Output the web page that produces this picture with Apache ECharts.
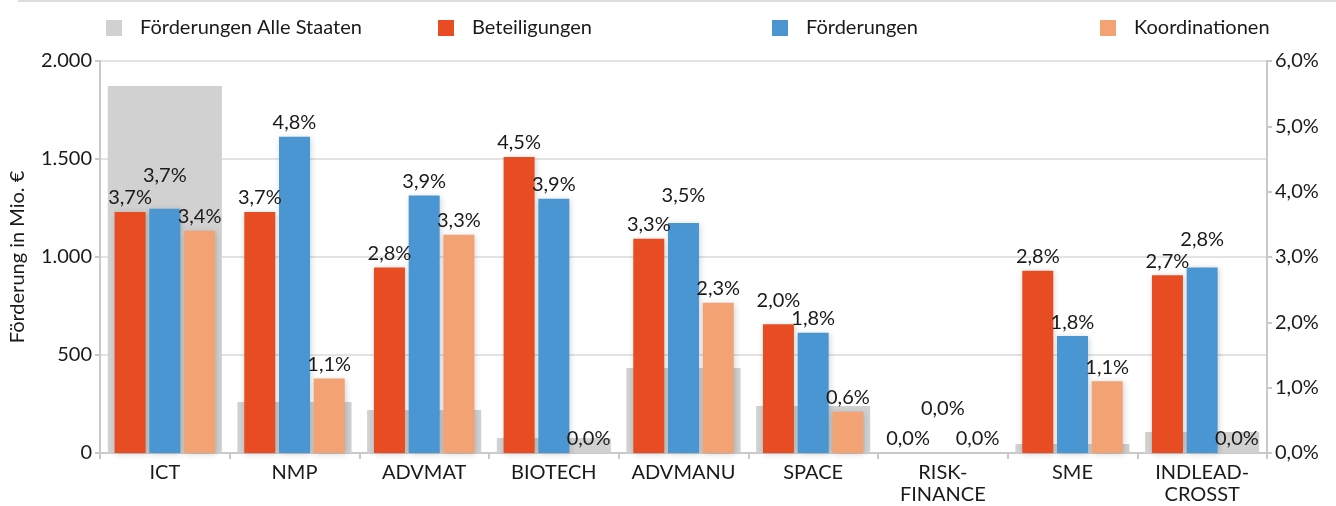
<!DOCTYPE html>
<html>
<head>
<meta charset="utf-8">
<script src="https://cdn.jsdelivr.net/npm/echarts@6/dist/echarts.min.js"></script>
<style>
    html, body { margin: 0; padding: 0; background: #fff; }
    #chart { width: 1336px; height: 506px; }
</style>
</head>
<body>
<div id="chart"></div>
<script>
// Daten
var kategorien = ['ICT', 'NMP', 'ADVMAT', 'BIOTECH', 'ADVMANU', 'SPACE', 'RISK-\nFINANCE', 'SME', 'INDLEAD-\nCROSST'];
var alleStaaten = [1872, 260, 219, 77, 434, 240, 0, 46, 107];          // Mio. €
var beteiligungen = [3.69, 3.69, 2.84, 4.53, 3.28, 1.97, 0, 2.79, 2.72];  // %
var foerderungen = [3.74, 4.84, 3.94, 3.89, 3.52, 1.84, 0, 1.79, 2.84];   // %
var koordinationen = [3.40, 1.14, 3.34, 0, 2.30, 0.63, 0, 1.10, 0];       // %
var linkeTicks = [0, 500, 1000, 1500, 2000];
var rechteTicks = [0, 1, 2, 3, 4, 5, 6];

// Beschriftungen, die wie im Original nach oben ausweichen
var labelLift = {
    'Beteiligungen': {5: -10},
    'Förderungen': {0: -19, 4: -13, 6: -30, 8: -14}
};

var schrift = 'Lato, "Open Sans", sans-serif';
var textFarbe = '#1a1a1a';
var achsenFarbe = '#c9c9c9';

function prozent(v) {
    return v.toFixed(1).replace('.', ',') + '%';
}
function tausender(v) {
    return String(v).replace(/\B(?=(\d{3})+(?!\d))/g, '.');
}

function farbSerie(name, werte, farbe) {
    var lift = labelLift[name] || {};
    return {
        name: name,
        type: 'bar',
        xAxisIndex: 0,
        yAxisIndex: 1,
        barWidth: 31,
        barGap: '12%',
        z: 3,
        data: werte.map(function (v, i) {
            var item = {value: v};
            if (lift[i]) {
                item.label = {offset: [0, lift[i]]};
            }
            return item;
        }),
        itemStyle: {
            color: farbe,
            shadowBlur: 6,
            shadowColor: 'rgba(0,0,0,0.18)',
            shadowOffsetX: 1,
            shadowOffsetY: 1
        },
        label: {
            show: true,
            position: 'top',
            distance: 4,
            color: textFarbe,
            fontFamily: schrift,
            fontSize: 20,
            formatter: function (p) { return prozent(p.value); }
        }
    };
}

function legende(name, left) {
    return {
        data: [name],
        left: left,
        top: 13,
        itemWidth: 16,
        itemHeight: 16,
        icon: 'rect',
        selectedMode: false,
        textStyle: {
            fontFamily: schrift,
            fontSize: 20,
            color: textFarbe,
            padding: [0, 0, 0, 13]
        }
    };
}

var myChart = echarts.init(document.getElementById('chart'));
var option = {
    animation: false,
    backgroundColor: '#fff',
    graphic: [{
        type: 'line',
        shape: {x1: 18, y1: 1, x2: 1336, y2: 1},
        style: {stroke: '#dcdcdc', lineWidth: 2}
    }],
    legend: [
        legende('Förderungen Alle Staaten', 101),
        legende('Beteiligungen', 433),
        legende('Förderungen', 767),
        legende('Koordinationen', 1095)
    ],
    grid: {left: 99, right: 69, top: 61, bottom: 53},
    xAxis: [{
        type: 'category',
        data: kategorien,
        axisLine: {lineStyle: {color: achsenFarbe, width: 2}},
        axisTick: {show: true, length: 6, interval: 0, lineStyle: {color: achsenFarbe, width: 2}},
        axisLabel: {
            interval: 0,
            color: textFarbe,
            fontFamily: schrift,
            fontSize: 20,
            lineHeight: 22,
            margin: 9
        }
    }, {
        type: 'category',
        data: kategorien,
        show: false
    }],
    yAxis: [{
        type: 'value',
        min: linkeTicks[0],
        max: linkeTicks[linkeTicks.length - 1],
        interval: 500,
        name: 'Förderung in Mio. €',
        nameLocation: 'middle',
        nameGap: 72,
        nameTextStyle: {color: textFarbe, fontFamily: schrift, fontSize: 20},
        axisLine: {show: true, lineStyle: {color: achsenFarbe, width: 2}},
        axisTick: {show: true, length: 5, lineStyle: {color: achsenFarbe, width: 2}},
        axisLabel: {
            color: textFarbe,
            fontFamily: schrift,
            fontSize: 20,
            margin: 8,
            formatter: function (v) { return tausender(v); }
        },
        splitLine: {lineStyle: {color: '#dadada', width: 1.5}}
    }, {
        type: 'value',
        min: rechteTicks[0],
        max: rechteTicks[rechteTicks.length - 1],
        interval: 1,
        position: 'right',
        axisLine: {show: true, lineStyle: {color: achsenFarbe, width: 2}},
        axisTick: {show: true, length: 5, lineStyle: {color: achsenFarbe, width: 2}},
        axisLabel: {
            color: textFarbe,
            fontFamily: schrift,
            fontSize: 20,
            margin: 8,
            formatter: function (v) { return prozent(v); }
        },
        splitLine: {show: false}
    }],
    series: [
        {
            name: 'Förderungen Alle Staaten',
            type: 'bar',
            xAxisIndex: 1,
            yAxisIndex: 0,
            barWidth: '88%',
            z: 1,
            data: alleStaaten,
            itemStyle: {color: '#d0d1d0'}
        },
        farbSerie('Beteiligungen', beteiligungen, '#e84c22'),
        farbSerie('Förderungen', foerderungen, '#4a96d2'),
        farbSerie('Koordinationen', koordinationen, '#f3a373')
    ]
};
myChart.setOption(option);
</script>
</body>
</html>
